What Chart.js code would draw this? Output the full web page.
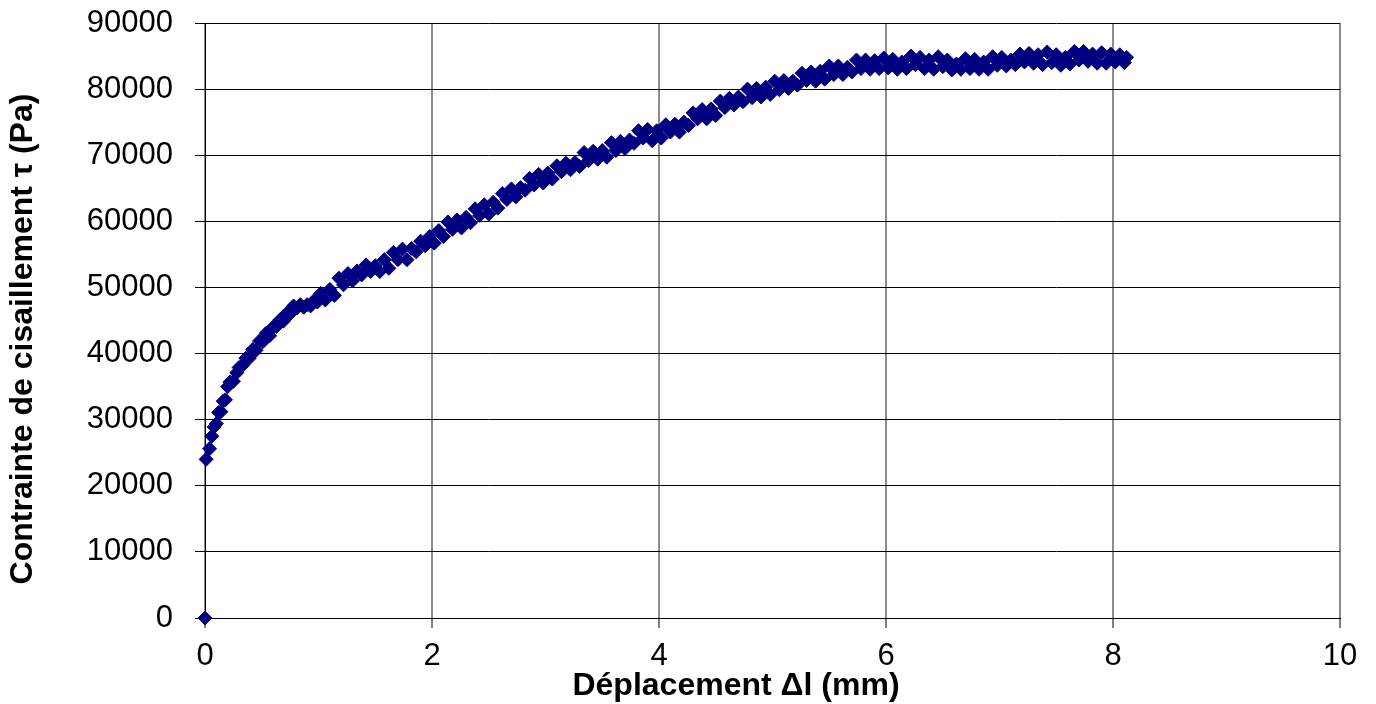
<!DOCTYPE html>
<html>
<head>
<meta charset="utf-8">
<script src="https://cdn.jsdelivr.net/npm/chart.js@4/dist/chart.umd.min.js"></script>
<style>
  html, body { margin: 0; padding: 0; background: #fff; }
  #wrap { width: 1376px; height: 704px; }
</style>
</head>
<body>
<div id="wrap"><canvas id="chart"></canvas></div>
<script>
// values (mm, Pa)
const displacement = [
  0, 0.01, 0.04, 0.06, 0.08, 0.10, 0.12, 0.14, 0.16, 0.18, 0.20, 0.22, 0.25, 0.28, 0.30,
  0.33, 0.36, 0.39, 0.42, 0.45, 0.48, 0.51, 0.54, 0.57, 0.60, 0.63, 0.66, 0.69, 0.72, 0.75,
  0.78, 0.81, 0.84, 0.87, 0.90, 0.93, 0.96, 0.99,
  1.02, 1.06, 1.10, 1.14, 1.18, 1.22, 1.26, 1.30, 1.34, 1.38, 1.42, 1.46, 1.50, 1.54, 1.58,
  1.62, 1.66, 1.70, 1.74, 1.78, 1.82, 1.86, 1.90, 1.94, 1.98,
  2.02, 2.06, 2.10, 2.14, 2.18, 2.22, 2.26, 2.30, 2.34, 2.38, 2.42, 2.46, 2.50, 2.54, 2.58,
  2.62, 2.66, 2.70, 2.74, 2.78, 2.82, 2.86, 2.90, 2.94, 2.98,
  3.02, 3.06, 3.10, 3.14, 3.18, 3.22, 3.26, 3.30, 3.34, 3.38, 3.42, 3.46, 3.50, 3.54, 3.58,
  3.62, 3.66, 3.70, 3.74, 3.78, 3.82, 3.86, 3.90, 3.94, 3.98,
  4.02, 4.06, 4.10, 4.14, 4.18, 4.22, 4.26, 4.30, 4.34, 4.38, 4.42, 4.46, 4.50, 4.54, 4.58,
  4.62, 4.66, 4.70, 4.74, 4.78, 4.82, 4.86, 4.90, 4.94, 4.98,
  5.02, 5.06, 5.10, 5.14, 5.18, 5.22, 5.26, 5.30, 5.34, 5.38, 5.42, 5.46, 5.50, 5.54, 5.58,
  5.62, 5.66, 5.70, 5.74, 5.78, 5.82, 5.86, 5.90, 5.94, 5.98,
  6.02, 6.06, 6.10, 6.14, 6.18, 6.22, 6.26, 6.30, 6.34, 6.38, 6.42, 6.46, 6.50, 6.54, 6.58,
  6.62, 6.66, 6.70, 6.74, 6.78, 6.82, 6.86, 6.90, 6.94, 6.98,
  7.02, 7.06, 7.10, 7.14, 7.18, 7.22, 7.26, 7.30, 7.34, 7.38, 7.42, 7.46, 7.50, 7.54, 7.58,
  7.62, 7.66, 7.70, 7.74, 7.78, 7.82, 7.86, 7.90, 7.94, 7.98,
  8.02, 8.06, 8.10, 8.12
];
const shearStress = [
  0, 24000, 25600, 27500, 28900, 29400, 31100, 31200, 32800, 33000, 35000, 35700, 35800, 37100, 37900,
  38200, 39300, 39300, 40600, 40500, 41900, 41800, 43100, 42700, 44000, 44100, 45100, 44900, 46100, 46000,
  47200, 46900, 47400, 47000, 47400, 47200, 48000, 47800,
  49100, 48100, 49700, 48800, 51400, 50400, 52100, 51000, 52500, 51900, 53400, 52400, 53300, 52400, 54200,
  52900, 55300, 54200, 55800, 54200, 55900, 55400, 57000, 56300, 57700,
  56700, 58600, 57700, 59900, 58800, 60200, 59000, 60600, 59800, 61900, 60900, 62500, 61100, 62900, 62000,
  64200, 63300, 64900, 63700, 65100, 64700, 66500, 65500, 67100, 65800,
  67300, 66400, 68400, 67500, 68800, 67800, 68900, 68300, 70400, 69200, 70600, 69400, 70700, 69700, 71900,
  70700, 72100, 71000, 72300, 71800, 73700, 72600, 73900, 72200, 73700,
  72600, 74600, 73500, 74700, 73500, 75000, 74500, 76400, 75500, 76900, 75500, 77000, 76000, 78200, 77200,
  78600, 77600, 78800, 78100, 80000, 78700, 80100, 78800, 80300, 79200,
  81200, 79900, 81300, 80100, 81200, 80600, 82400, 81300, 82600, 81200, 82700, 81500, 83500, 82200, 83500,
  82200, 83300, 82600, 84400, 83100, 84400, 83000, 84300, 83100, 84700,
  83200, 84500, 83000, 84100, 83100, 85000, 83700, 84800, 83100, 84400, 83000, 84900, 83400, 84400, 82900,
  83800, 83000, 84600, 83100, 84500, 83000, 84100, 83000, 84900, 83600,
  84800, 83500, 84400, 83700, 85300, 84100, 85400, 83900, 85200, 83700, 85600, 84000, 85200, 83600, 84800,
  83800, 85700, 84400, 85700, 84200, 85300, 83900, 85500, 83900, 85300,
  84100, 85200, 84000, 84800
];
const xTicks = [0, 2, 4, 6, 8, 10];
const yTicks = [0, 10000, 20000, 30000, 40000, 50000, 60000, 70000, 80000, 90000];
const xTitle = 'Déplacement Δl (mm)';
const yTitle = 'Contrainte de cisaillement τ (Pa)';

const FONT = '"Liberation Sans", Arial, Helvetica, sans-serif';

// axis titles placed where the original has them (not centred on the plot)
const axisTitles = {
  id: 'axisTitles',
  afterDraw(chart) {
    const ctx = chart.ctx;
    ctx.save();
    ctx.fillStyle = '#000';
    ctx.font = 'bold 32px ' + FONT;
    ctx.textAlign = 'center';
    ctx.textBaseline = 'middle';
    ctx.fillText(xTitle, 736, 686);
    ctx.translate(23, 339);
    ctx.rotate(-Math.PI / 2);
    ctx.fillText(yTitle, 0, 0);
    ctx.restore();
  }
};

new Chart(document.getElementById('chart'), {
  type: 'scatter',
  data: {
    datasets: [{
      label: 'τ',
      data: displacement.map((x, i) => ({ x: x, y: shearStress[i] })),
      pointStyle: 'rectRot',
      pointRadius: 7,
      pointBorderWidth: 1,
      backgroundColor: '#000080',
      borderColor: '#000080',
      showLine: false,
      clip: false
    }]
  },
  options: {
    responsive: true,
    maintainAspectRatio: false,
    animation: false,
    layout: { padding: { top: 23, right: 36, bottom: 0, left: 0 } },
    plugins: {
      legend: { display: false },
      tooltip: { enabled: false }
    },
    scales: {
      x: {
        type: 'linear',
        min: xTicks[0],
        max: xTicks[xTicks.length - 1],
        afterBuildTicks: (scale) => { scale.ticks = xTicks.map(v => ({ value: v })); },
        afterFit: (scale) => { scale.height = 86; },
        ticks: { color: '#000', font: { family: FONT, size: 31 }, padding: 10, maxRotation: 0 },
        grid: { color: '#8c8c8c', lineWidth: 2, tickLength: 10, tickColor: '#000', tickWidth: 1 },
        border: { color: '#000', width: 1 }
      },
      y: {
        min: yTicks[0],
        max: yTicks[yTicks.length - 1],
        afterBuildTicks: (scale) => { scale.ticks = yTicks.map(v => ({ value: v })); },
        afterFit: (scale) => {
          scale.width = 205;
          scale.paddingTop = 0;
          scale.paddingBottom = 0;
        },
        ticks: { color: '#000', font: { family: FONT, size: 31 }, padding: 22, callback: v => String(v) },
        grid: { color: '#000', lineWidth: 1, tickLength: 10, tickColor: '#000' },
        border: { color: '#000', width: 1 }
      }
    }
  },
  plugins: [axisTitles]
});
</script>
</body>
</html>
